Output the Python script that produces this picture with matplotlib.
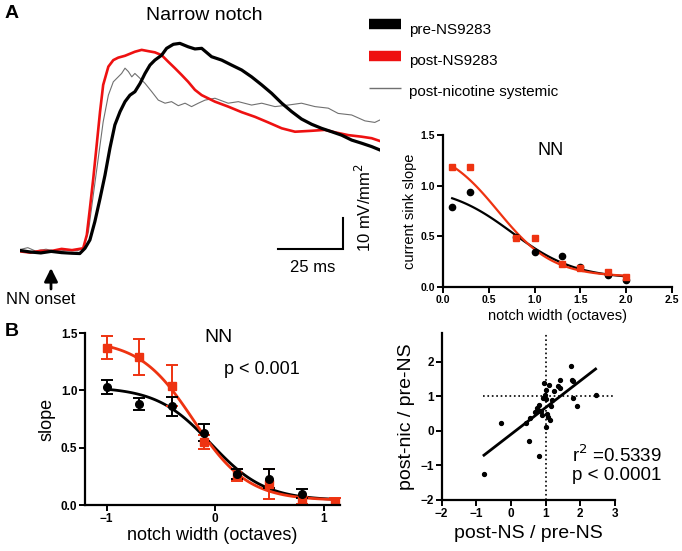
import numpy as np
import matplotlib
matplotlib.use('Agg')
from matplotlib import pyplot as plt

plt.rcParams['font.family'] = ['Liberation Sans', 'DejaVu Sans']

W, H = 682, 551

# ---- panel A traces (time ms, current sink mV/mm^2)
t_red = [0, 4, 8, 12, 16, 20, 24.3, 25.7, 26.9, 28.2, 29.5, 30.8, 32.0, 34.0, 35.9, 37.8, 40.4, 44.2,
         46.8, 49.3, 51.9, 54.5, 57.0, 59.6, 62.2, 64.7, 67.3, 69.9, 75.0, 80.1, 85.3, 90.4, 95.5,
         100.7, 105.8, 112.2, 117.3, 121.2, 126.3, 131.4, 135.3, 138.5]
a_red = [0.2, -0.2, 0.4, 0.3, 1.0, 0.6, 1.2, 5.5, 14.1, 23.8, 34.5, 45.3, 53.9, 59.8, 61.9, 62.7, 63.3, 64.6,
         65.2, 64.8, 64.4, 63.5, 61.4, 59.3, 57.1, 54.9, 52.3, 50.6, 48.5, 46.9, 45.1, 43.6, 41.8,
         39.9, 38.8, 39.1, 39.4, 38.6, 37.7, 37.2, 36.7, 35.8]

t_blk = [0, 4, 8, 12, 16, 20, 23, 25.0, 26.9, 28.8, 30.8, 32.7, 34.6, 36.5, 38.5, 40.4, 42.3, 44.2, 46.2,
         48.1, 50.0, 51.9, 54.5, 56.4, 59.0, 61.5, 64.7, 67.3, 69.9, 73.7, 77.6, 81.4, 85.3, 89.1,
         93.0, 96.8, 100.7, 104.5, 108.3, 112.2, 116.0, 119.9, 123.7, 127.6, 131.4, 135.3, 138.5]
a_blk = [0.5, 0.0, -0.3, 0.2, -0.2, -0.4, -0.5, 1.2, 3.9, 9.8, 17.3, 24.8, 33.5, 41.0, 45.3, 48.5, 50.6, 51.7, 54.4,
         57.6, 60.3, 61.9, 63.5, 65.7, 67.0, 67.3, 66.2, 65.5, 65.7, 63.0, 61.9, 60.3, 58.7, 56.5,
         53.9, 51.2, 48.0, 45.3, 42.9, 41.2, 39.9, 38.8, 37.7, 36.1, 35.1, 34.0, 32.9]

t_gry = [0, 3, 6, 10, 14, 18, 22, 24.3, 26.3, 28.2, 30.1, 32.0, 34.0, 35.9, 37.8, 39.1, 40.4, 41.7, 43.0,
         44.2, 46.2, 48.1, 50.7, 53.2, 55.8, 58.3, 60.9, 63.5, 66.0, 68.6, 71.2, 75.0, 80.1, 84.0,
         89.1, 93.0, 98.1, 103.2, 108.3, 113.5, 118.6, 122.4, 127.6, 132.7, 136.5, 138.5]
a_gry = [0.8, 1.4, 0.3, 0.9, 0.2, 0.6, 0.4, 1.2, 6.5, 18.4, 30.2, 42.0, 50.6, 54.9, 56.5, 57.6, 59.3, 58.2, 56.5,
         57.6, 56.0, 54.4, 51.7, 49.0, 48.0, 48.5, 47.2, 48.0, 46.9, 48.0, 49.0, 49.6, 48.0, 48.5,
         47.4, 48.0, 46.9, 47.4, 48.0, 46.9, 46.4, 44.7, 44.2, 42.3, 41.8, 42.6]

# ---- panel A right: current sink slope vs notch width
a_width = [0.1, 0.3, 0.8, 1.0, 1.3, 1.5, 1.8, 2.0]
a_pre = [0.79, 0.94, 0.49, 0.35, 0.31, 0.20, 0.12, 0.07]
a_post = [1.18, 1.18, 0.48, 0.48, 0.23, 0.19, 0.15, 0.10]
fitA_pre = dict(top=1.0, bottom=0.08, x50=0.75, s=0.35)
fitA_post = dict(top=1.4, bottom=0.10, x50=0.60, s=0.30)

# ---- panel B left: slope vs notch width (log octaves)
b_width = [-1.0, -0.7, -0.4, -0.1, 0.2, 0.5, 0.8]
b_pre = [1.03, 0.88, 0.86, 0.63, 0.27, 0.23, 0.10]
b_pre_err = [0.06, 0.05, 0.085, 0.075, 0.045, 0.085, 0.04]
b_width_post = [-1.0, -0.7, -0.4, -0.1, 0.2, 0.5, 0.8, 1.1]
b_post = [1.37, 1.29, 1.04, 0.55, 0.26, 0.18, 0.04, 0.03]
b_post_err = [0.10, 0.16, 0.18, 0.06, 0.05, 0.13, 0.03, 0.03]
fitB_pre = dict(top=1.03, bottom=0.04, x50=-0.04, s=0.25)
fitB_post = dict(top=1.44, bottom=0.04, x50=-0.20, s=0.25)

# ---- panel B right: post-nic / pre-NS vs post-NS / pre-NS
ns_ratio = [-0.78, -0.29, 0.42, 0.53, 0.55, 0.69, 0.74, 0.82, 0.86, 0.81, 0.95, 1.01, 0.98, 1.0, 0.92,
            1.03, 1.06, 1.0, 1.12, 1.15, 1.10, 1.24, 1.36, 1.41, 1.41, 1.72, 1.75, 1.78, 1.78, 1.89,
            2.44, 1.17, 0.90, 0.78]
nic_ratio = [-1.26, 0.24, 0.23, -0.29, 0.36, 0.55, 0.65, 0.74, 0.58, -0.73, 1.37, 1.19, 1.03, 0.93, 0.96,
             0.50, 0.40, 0.12, 0.31, 0.71, 1.34, 1.15, 1.29, 1.25, 1.48, 1.89, 1.48, 1.44, 0.95, 0.71,
             1.05, 0.88, 0.45, 0.60]
reg_slope, reg_icpt = 0.774, -0.10


def boltz(x, top, bottom, x50, s):
    return bottom + (top - bottom) / (1 + np.exp((x - x50) / s))


def box(x0, y0, x1, y1):
    # pixel box (top-left origin) -> figure fraction rect
    return [x0 / W, 1 - y1 / H, (x1 - x0) / W, (y1 - y0) / H]


def style(ax, fs):
    for sp in ['top', 'right']:
        ax.spines[sp].set_visible(False)
    for sp in ['left', 'bottom']:
        ax.spines[sp].set_linewidth(1.6)
    ax.tick_params(direction='out', length=4, width=1.4, labelsize=fs, pad=1.5)
    for lab in ax.get_xticklabels() + ax.get_yticklabels():
        lab.set_fontweight('bold')


fig = plt.figure(figsize=(W / 100, H / 100), dpi=100)

# traces
ax = fig.add_axes(box(20, 35, 380, 258.2))
ax.plot(t_gry, a_gry, color='#707070', lw=0.8)
ax.plot(t_red, a_red, color='#ee1111', lw=1.9)
ax.plot(t_blk, a_blk, color='black', lw=2.3)
ax.set_xlim(0, 138.5)
ax.set_ylim(-2, 70)
ax.axis('off')
# scale bar 25 ms / 10 mV/mm2
ax.plot([99.2, 124.2, 124.2], [1.0, 1.0, 11.0], color='black', lw=1.5, solid_joinstyle='miter')

fig.text(313 / W, 1 - 268 / H, '25 ms', ha='center', va='center', fontsize=12)
fig.text(364 / W, 1 - 208 / H, '10 mV/mm$^2$', ha='center', va='center', fontsize=12, rotation=90)
fig.text(204 / W, 1 - 16 / H, 'Narrow notch', ha='center', va='center', fontsize=14)
fig.text(12 / W, 1 - 14 / H, 'A', ha='center', va='center', fontsize=14, fontweight='bold')
fig.text(12 / W, 1 - 331 / H, 'B', ha='center', va='center', fontsize=14, fontweight='bold')
fig.text(41 / W, 1 - 299 / H, 'NN onset', ha='center', va='center', fontsize=12)
fig.add_artist(matplotlib.patches.FancyArrowPatch((51 / W, 1 - 289 / H), (51 / W, 1 - 268 / H),
               transform=fig.transFigure, arrowstyle='-|>,head_width=0.4,head_length=0.8',
               mutation_scale=10, lw=2.0, color='black', shrinkA=0, shrinkB=0))

# legend drawn by hand
leg = [('pre-NS9283', 'black', 7.5, 24, 30), ('post-NS9283', '#ee1111', 7.5, 56, 61),
       ('post-nicotine systemic', '#707070', 1.0, 88, 92)]
for txt, col, lw, ly, ty in leg:
    fig.add_artist(plt.Line2D([369 / W, 401 / W], [1 - ly / H, 1 - ly / H], color=col, lw=lw,
                              solid_capstyle='butt', transform=fig.transFigure))
    fig.text(409 / W, 1 - ty / H, txt, ha='left', va='center', fontsize=11)

# A right
ax1 = fig.add_axes(box(443, 135, 672, 287))
xs = np.linspace(0.1, 2.0, 100)
ax1.plot(xs, boltz(xs, **fitA_pre), color='black', lw=1.6)
ax1.plot(xs, boltz(xs, **fitA_post), color='#ee3311', lw=1.6)
ax1.plot(a_width, a_pre, 'o', color='black', ms=4.5)
ax1.plot(a_width, a_post, 's', color='#ee3311', ms=4.5)
ax1.set_xlim(0, 2.5)
ax1.set_ylim(0, 1.5)
ax1.set_xticks([0, 0.5, 1.0, 1.5, 2.0, 2.5])
ax1.set_yticks([0, 0.5, 1.0, 1.5])
ax1.xaxis.set_major_formatter(matplotlib.ticker.FormatStrFormatter('%.1f'))
ax1.yaxis.set_major_formatter(matplotlib.ticker.FormatStrFormatter('%.1f'))
style(ax1, 7.5)
ax1.set_xlabel('notch width (octaves)', fontsize=10.5, labelpad=3)
ax1.set_ylabel('current sink slope', fontsize=10.5, labelpad=3)
ax1.text(0.47, 0.9, 'NN', transform=ax1.transAxes, ha='center', va='center', fontsize=13)

# B left
ax2 = fig.add_axes(box(85, 333, 340, 505))
xs = np.linspace(-1.0, 1.1, 100)
ax2.plot(xs, boltz(xs, **fitB_pre), color='black', lw=2.0)
ax2.plot(xs, boltz(xs, **fitB_post), color='#ee3311', lw=2.0)
ax2.errorbar(b_width_post, b_post, yerr=b_post_err, fmt='s', color='#ee3311', ms=5.5,
             capsize=4, elinewidth=1.4, capthick=1.4)
ax2.errorbar(b_width, b_pre, yerr=b_pre_err, fmt='o', color='black', ms=5.5,
             capsize=4, elinewidth=1.4, capthick=1.4)
ax2.set_xlim(-1.2, 1.15)
ax2.set_ylim(0, 1.5)
ax2.set_xticks([-1, 0, 1])
ax2.set_yticks([0, 0.5, 1.0, 1.5])
ax2.yaxis.set_major_formatter(matplotlib.ticker.FormatStrFormatter('%.1f'))
style(ax2, 8.5)
ax2.set_xlabel('notch width (octaves)', fontsize=13, labelpad=2)
ax2.set_ylabel('slope', fontsize=13, labelpad=4)
ax2.text(218 / W, 1 - 338 / H, 'NN', transform=fig.transFigure, ha='center', va='center', fontsize=14)
ax2.text(262 / W, 1 - 370 / H, 'p < 0.001', transform=fig.transFigure, ha='center', va='center', fontsize=13)

# B right
ax3 = fig.add_axes(box(441.7, 333, 615, 500))
ax3.plot([1, 1], [-2, 2.83], ':', color='black', lw=1.2)
ax3.plot([-0.8, 3.0], [1, 1], ':', color='black', lw=1.2)
xr = np.array([min(ns_ratio), max(ns_ratio)])
ax3.plot(xr, reg_slope * xr + reg_icpt, color='black', lw=2.0)
ax3.plot(ns_ratio, nic_ratio, 'o', color='black', ms=2.8)
ax3.set_xlim(-2, 3)
ax3.set_ylim(-2, 2.83)
ax3.set_xticks([-2, -1, 0, 1, 2, 3])
ax3.set_yticks([-2, -1, 0, 1, 2])
style(ax3, 8.5)
ax3.set_xlabel('post-NS / pre-NS', fontsize=14, labelpad=4)
ax3.set_ylabel('post-nic / pre-NS', fontsize=14, labelpad=4)
fig.text(572 / W, 1 - 455 / H, 'r$^2$ =0.5339', ha='left', va='center', fontsize=13.5)
fig.text(572 / W, 1 - 475 / H, 'p < 0.0001', ha='left', va='center', fontsize=13.5)

fig.savefig('out.png', dpi=100)
